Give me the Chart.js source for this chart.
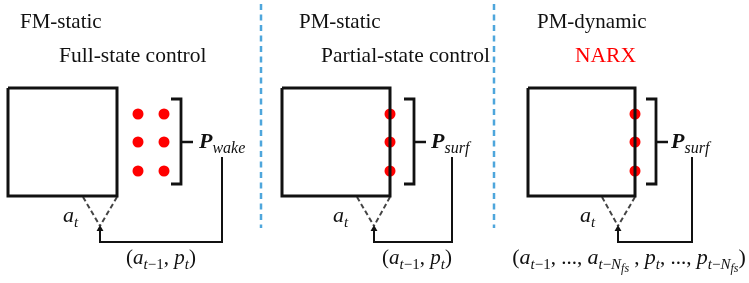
<!DOCTYPE html>
<html>
<head>
<meta charset="utf-8">
<script src="https://cdn.jsdelivr.net/npm/chart.js@4/dist/chart.umd.min.js"></script>
<style>
html,body{margin:0;padding:0;background:#fff;}
#wrap{width:749px;height:283px;}
</style>
</head>
<body>
<div id="wrap"><canvas id="c" width="749" height="283"></canvas></div>
<script>
// ---- data (diagram geometry in the chart's own x/y units) ----
const panelTitles = ["FM-static", "PM-static", "PM-dynamic"];
const methodLabels = ["Full-state control", "Partial-state control", "NARX"];
const boxLeft = [8, 282, 528];
const boxRight = [117, 390, 635];
const boxTop = [88, 88, 88];
const boxBottom = [196, 196, 196];
const sensorX = [[138, 164], [390], [635]];
const sensorY = [114, 142, 171];
const bracketX = [181, 414, 656];
const feedbackX = [222, 452, 692];
const arrowX = [100, 374, 618];
const separatorX = [261, 494];

// ---- layout ----
const L = {
  titleX: [20, 299, 537], titleY: 28,
  methodX: [59, 321, 575], methodY: 62,
  bracketTop: 99, bracketBottom: 184, bracketMid: 142, hook: 10, tick: 12,
  pX: [199, 431, 671], pY: 148,
  feedStartY: 157, feedBottomY: 242, arrowTipY: 226,
  sepTop: 4, sepBottom: 228,
  atX: [63, 333, 580], atY: 222,
  tupleX: [161, 417, 629], tupleY: 264
};

const datasets = [];
const black = '#111';
for (let i = 0; i < 3; i++) {
  // box
  datasets.push({type:'scatter', showLine:true, borderColor:black, borderWidth:3, pointRadius:0, fill:false,
    data:[{x:boxLeft[i],y:boxTop[i]},{x:boxRight[i],y:boxTop[i]},{x:boxRight[i],y:boxBottom[i]},{x:boxLeft[i],y:boxBottom[i]},{x:boxLeft[i],y:boxTop[i]}]});
  // bracket
  const bx = bracketX[i];
  datasets.push({type:'scatter', showLine:true, borderColor:black, borderWidth:2.8, pointRadius:0,
    data:[{x:bx-L.hook,y:L.bracketTop},{x:bx,y:L.bracketTop},{x:bx,y:L.bracketBottom},{x:bx-L.hook,y:L.bracketBottom}]});
  datasets.push({type:'scatter', showLine:true, borderColor:black, borderWidth:2.5, pointRadius:0,
    data:[{x:bx,y:L.bracketMid},{x:bx+L.tick,y:L.bracketMid}]});
  // feedback path
  datasets.push({type:'scatter', showLine:true, borderColor:black, borderWidth:2, pointRadius:0,
    data:[{x:feedbackX[i],y:L.feedStartY},{x:feedbackX[i],y:L.feedBottomY},{x:arrowX[i],y:L.feedBottomY},{x:arrowX[i],y:L.arrowTipY+5}]});
  // arrow head
  datasets.push({type:'scatter', pointStyle:'triangle', pointRadius:4, backgroundColor:black, borderColor:black, borderWidth:0,
    data:[{x:arrowX[i],y:L.arrowTipY+3}]});
  // dashed action lines
  const lx = (i === 0) ? boxLeft[i] + 75 : boxRight[i] - 33;
  datasets.push({type:'scatter', showLine:true, borderColor:'#444', borderWidth:2, borderDash:[5,3], pointRadius:0,
    data:[{x:lx,y:boxBottom[i]+1},{x:arrowX[i],y:L.arrowTipY}]});
  datasets.push({type:'scatter', showLine:true, borderColor:'#444', borderWidth:2, borderDash:[5,3], pointRadius:0,
    data:[{x:boxRight[i],y:boxBottom[i]+1},{x:arrowX[i],y:L.arrowTipY}]});
  // sensors
  const pts = [];
  sensorX[i].forEach(sx => sensorY.forEach(sy => pts.push({x:sx,y:sy})));
  datasets.push({type:'scatter', pointRadius:5.5, pointHoverRadius:5.5, backgroundColor:'#ff0000', borderWidth:0, data:pts});
}
// separators
separatorX.forEach(sx => datasets.push({type:'scatter', showLine:true, borderColor:'#4ea6dc', borderWidth:2.5, borderDash:[6,4.5], pointRadius:0,
  data:[{x:sx,y:L.sepTop},{x:sx,y:L.sepBottom}]}));

const SERIF = '"Liberation Serif", "Times New Roman", serif';
function drawRich(ctx, x, y, segs, align) {
  let w = 0;
  segs.forEach(s => { ctx.font = (s.st||'') + ' ' + s.sz + 'px ' + SERIF; s.w = ctx.measureText(s.t).width; w += s.w; });
  let cx = align === 'center' ? x - w/2 : x;
  segs.forEach(s => {
    ctx.font = (s.st||'') + ' ' + s.sz + 'px ' + SERIF;
    ctx.fillStyle = s.c || '#111';
    ctx.fillText(s.t, cx, y + (s.dy||0));
    cx += s.w;
  });
}

const textPlugin = {
  id:'diagramText',
  afterDatasetsDraw(chart) {
    const ctx = chart.ctx, xs = chart.scales.x, ys = chart.scales.y;
    const X = v => xs.getPixelForValue(v), Y = v => ys.getPixelForValue(v);
    ctx.save();
    ctx.textBaseline = 'alphabetic';
    ctx.textAlign = 'left';
    for (let i = 0; i < 3; i++) {
      drawRich(ctx, X(L.titleX[i]), Y(L.titleY), [{t:panelTitles[i], sz:21}]);
      drawRich(ctx, X(L.methodX[i]), Y(L.methodY), [{t:methodLabels[i], sz:21.5, c: i===2 ? '#ff0000' : '#111'}]);
      const sub = i === 0 ? 'wake' : 'surf';
      drawRich(ctx, X(L.pX[i]), Y(L.pY),
        [{t:'P', st:'italic bold', sz:22}, {t:sub, st:'italic', sz:16, dy:5}]);
      drawRich(ctx, X(L.atX[i]), Y(L.atY), [{t:'a', st:'italic', sz:22}, {t:'t', st:'italic', sz:15, dy:5}]);
    }
    const simple = [{t:'(', sz:21},{t:'a', st:'italic', sz:21},{t:'t', st:'italic', sz:15, dy:5},{t:'−1', sz:15, dy:5},
      {t:', ', sz:21},{t:'p', st:'italic', sz:21},{t:'t', st:'italic', sz:15, dy:5},{t:')', sz:21}];
    drawRich(ctx, X(L.tupleX[0]), Y(L.tupleY), simple.map(s=>({...s})), 'center');
    drawRich(ctx, X(L.tupleX[1]), Y(L.tupleY), simple.map(s=>({...s})), 'center');
    const longT = [{t:'(', sz:22},{t:'a', st:'italic', sz:22},{t:'t', st:'italic', sz:15, dy:5},{t:'−1', sz:15, dy:5},
      {t:', ..., ', sz:21},{t:'a', st:'italic', sz:22},{t:'t', st:'italic', sz:15, dy:5},{t:'−', sz:15, dy:5},{t:'N', st:'italic', sz:15, dy:5},{t:'fs', st:'italic', sz:12, dy:8},
      {t:' , ', sz:21},{t:'p', st:'italic', sz:22},{t:'t', st:'italic', sz:15, dy:5},
      {t:', ..., ', sz:21},{t:'p', st:'italic', sz:22},{t:'t', st:'italic', sz:15, dy:5},{t:'−', sz:15, dy:5},{t:'N', st:'italic', sz:15, dy:5},{t:'fs', st:'italic', sz:12, dy:8},{t:')', sz:22}];
    drawRich(ctx, X(L.tupleX[2]), Y(L.tupleY), longT, 'center');
    ctx.restore();
  }
};

new Chart(document.getElementById('c'), {
  type:'scatter',
  data:{datasets},
  options:{
    responsive:false, animation:false, devicePixelRatio:1,
    layout:{padding:0, autoPadding:false},
    plugins:{legend:{display:false}, tooltip:{enabled:false}},
    events:[],
    scales:{
      x:{type:'linear', min:0, max:749, display:false},
      y:{type:'linear', min:0, max:283, reverse:true, display:false}
    },
    elements:{line:{tension:0}},
    clip:false
  },
  plugins:[textPlugin]
});
</script>
</body>
</html>
